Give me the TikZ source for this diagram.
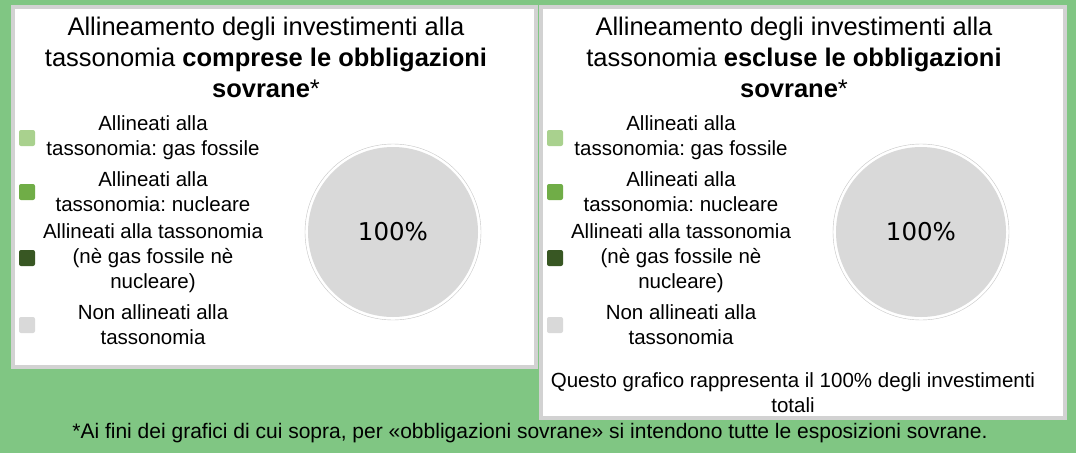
\documentclass[tikz,border=0pt]{standalone}
\usepackage{fontspec}
\setmainfont{Liberation Sans}
\newfontfamily\piefont{DejaVu Sans}
\usepackage{xcolor}
\usepackage{tikz}
\frenchspacing

\definecolor{bggreen}{RGB}{128,198,131}
\definecolor{framegray}{RGB}{210,210,210}
\definecolor{piegray}{RGB}{217,217,217}
\definecolor{gaslight}{RGB}{169,209,142}
\definecolor{nucmid}{RGB}{112,173,71}
\definecolor{alldark}{RGB}{56,87,35}

\tikzset{
  titletext/.style={align=center, inner sep=0pt, font=\fontsize{25.5}{31}\selectfont},
  legtext/.style={align=center, inner sep=0pt, font=\fontsize{20.5}{25}\selectfont},
  legbox/.style={rounded corners=2pt, minimum size=16pt, inner sep=0pt},
  pie/.style={circle, fill=piegray, minimum size=170pt, inner sep=0pt, font=\piefont\fontsize{24.5}{28}\selectfont}
}

\begin{document}
\begin{tikzpicture}[x=1pt,y=-1pt]
	\useasboundingbox (0,0) rectangle (1076,453);
	\fill[bggreen] (0,0) rectangle (1076,453);
	
	% the two panels
	\draw[framegray,line width=4pt,fill=white] (13,7) rectangle (536,367);
	\draw[framegray,line width=4pt,fill=white] (541,7) rectangle (1065,418);
	
	\foreach \p/\dx/\w in {a/0/comprese, b/528/escluse}
	{
	\begin{scope}[xshift=\dx]
	\node[titletext] (title\p) at (266,57) {Allineamento degli investimenti alla\\tassonomia \textbf{\w\ le obbligazioni}\\\textbf{sovrane}*};
	
	\foreach \y/\col/\txt [count=\k] in {138/gaslight/{Allineati alla\\tassonomia: gas fossile},
		192/nucmid/{Allineati alla\\tassonomia: nucleare},
		258/alldark/{Allineati alla tassonomia\\(nè gas fossile nè\\nucleare)},
		325/piegray/{Non allineati alla\\tassonomia}}
	{
	\node[legbox,fill=\col] (box\p\k) at (27,\y) {};
	\node[legtext] (leg\p\k) at (153,\y) {\txt};
	}
	
	\draw[gray!45,fill=white] (393,232) circle (88pt);
	\node[pie] (pie\p) at (393,232) {100\%};
	\end{scope}
	}
	
	\node[legtext] (note) at (793,392.5) {Questo grafico rappresenta il 100\% degli investimenti\\totali};
	\node[legtext,font=\fontsize{21}{25}\selectfont] (foot) at (530,433) {*Ai fini dei grafici di cui sopra, per «obbligazioni sovrane» si intendono tutte le esposizioni sovrane.};
	
\end{tikzpicture}
\end{document}
